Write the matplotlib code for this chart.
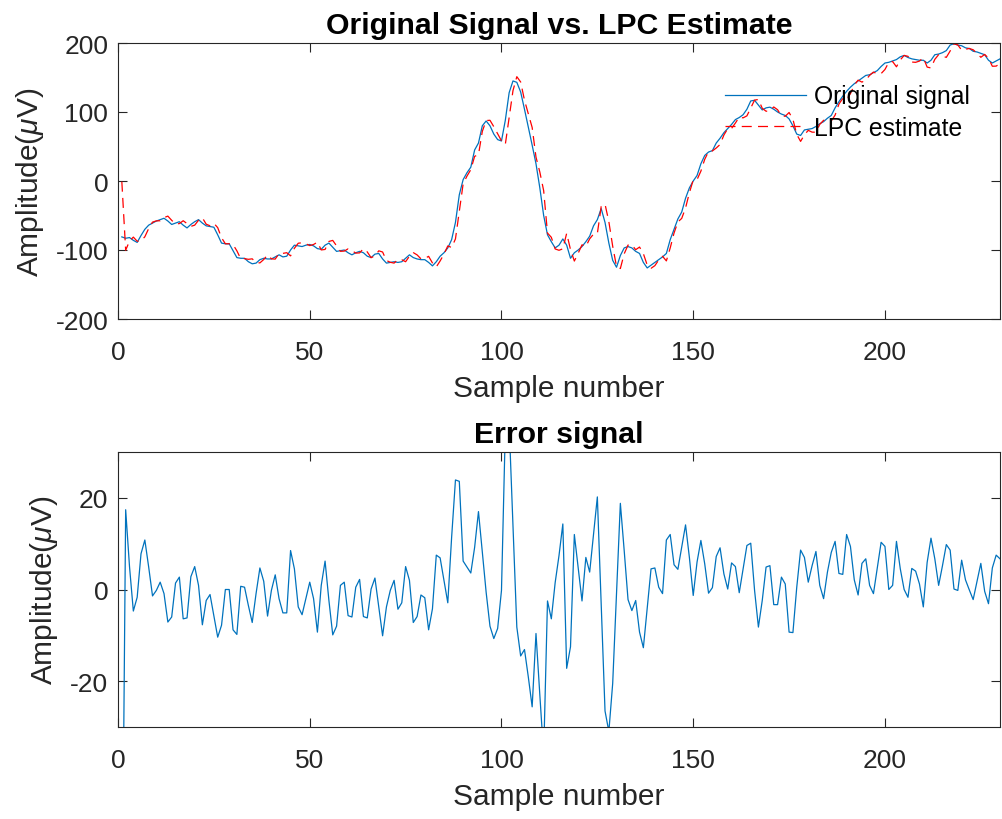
import numpy as np
import matplotlib
matplotlib.use("Agg")
import matplotlib.pyplot as plt

plt.rcParams['font.family'] = ['Liberation Sans', 'DejaVu Sans']
plt.rcParams['mathtext.fontset'] = 'custom'
plt.rcParams['mathtext.it'] = 'Liberation Sans:italic'
plt.rcParams['mathtext.rm'] = 'Liberation Sans'
plt.rcParams['axes.unicode_minus'] = False

# original signal (uV), samples 1..230
orig = [-81, -83, -82, -86, -89, -79, -70, -64, -61, -58,
        -56, -54, -58, -63, -61, -59, -64, -68, -63, -59,
        -56, -61, -65, -66, -67, -78, -90, -91, -91, -101,
        -111, -112, -112, -117, -120, -119, -114, -112, -113, -113,
        -110, -107, -110, -109, -100, -93, -94, -95, -93, -92,
        -94, -98, -99, -93, -90, -96, -102, -101, -100, -104,
        -107, -104, -102, -104, -109, -111, -106, -105, -113, -119,
        -118, -117, -118, -117, -112, -107, -111, -113, -114, -114,
        -118, -123, -117, -109, -104, -97, -85, -60, -20, 2,
        12, 20, 45, 55, 80, 87, 80, 68, 60, 58,
        88, 128, 145, 143, 129, 104, 78, 52, 25, -10,
        -50, -78, -88, -97, -93, -84, -93, -112, -104, -100,
        -95, -88, -80, -65, -56, -40, -60, -90, -115, -125,
        -108, -97, -95, -97, -102, -105, -118, -126, -122, -118,
        -114, -110, -105, -85, -70, -55, -45, -25, -10, 0,
        8, 25, 37, 42, 44, 55, 62, 70, 76, 82,
        89, 92, 96, 104, 116, 117, 110, 103, 106, 107,
        104, 100, 97, 95, 90, 80, 68, 66, 74, 75,
        76, 79, 83, 86, 91, 95, 106, 115, 123, 130,
        136, 141, 145, 149, 153, 154, 157, 160, 166, 171,
        172, 174, 176, 180, 182, 179, 177, 176, 175, 175,
        171, 175, 183, 184, 186, 189, 197, 199, 197, 196,
        193, 192, 188, 187, 185, 183, 175, 171, 174, 177]

# prediction error (uV)
err = [-80, 17.4, 5, -4.7, -1.7, 7.8, 10.8, 4.9, -1.4, -0.2,
       1.6, -0.9, -7.1, -6.0, 1.4, 2.7, -6.4, -6.2, 2.8, 5.0,
       0.9, -7.7, -2.4, -1.1, -5.7, -10.4, -7.8, 0, 0, -8.8,
       -9.8, 0.7, 0.5, -3.5, -7.2, -0.9, 4.7, 1.8, -5.8, -0.2,
       3.2, -2.0, -5.1, -5.1, 8.5, 4.5, -3.8, -5.5, -2.0, 1.6,
       -2.0, -9.3, 0.9, 6.2, -2.4, -9.9, -8.0, 0.9, 1.6, -5.7,
       -6.0, 0.5, 2.2, -5.9, -6.2, 0.1, 2.5, -3.8, -10.1, -3.8,
       -0.2, 2.0, -4.3, -2.9, 5.0, 2.0, -7.2, -5.9, -1.2, -1.8,
       -8.8, -4.2, 7.5, 6.9, 2.0, -2.9, 11.4, 23.9, 23.6, 6.2,
       4.9, 3.6, 9.2, 17.0, 8.1, -0.6, -8.0, -10.7, -8.5, -0.2,
       35, 36, 14, -8.2, -14.5, -13.1, -19.1, -25.6, -9.6, -23.0,
       -36, -2.5, -6.4, 1.5, 7.4, 14.3, -17.2, -12.5, 12.0, 4.7,
       -2.5, 7.0, 3.8, 12.0, 20.2, -3, -26.5, -31, -20.5, -1,
       18.8, 8.5, -2.2, -4.6, -2.4, -9.3, -12.7, -4.2, 4.5, 4.7,
       0.5, -0.9, 10.8, 12.0, 5.4, 4.4, 9.2, 14.1, 7.0, -1.3,
       6, 10.7, 5.6, -0.8, 0.4, 7.2, 9.1, 3.4, 0.1, 5.8,
       5.0, -0.7, 4.5, 9.6, 10.1, -0.2, -8.2, -2.4, 4.9, 5.2,
       -3.3, -3.3, 2.7, 1.2, -9.3, -9.4, 0.5, 8.6, 7.0, 1.6,
       5.2, 8.3, 0.9, -2.0, 3.8, 8.1, 10.5, 3.5, 3.3, 12.0,
       9.4, 2.1, -1.2, 5.7, 6.7, 0.9, -0.9, 4.7, 10.3, 9.4,
       0, 0.9, 10.5, 4.5, 0, -1.7, 4.6, 4.0, 1.2, -3.8,
       5.9, 11.2, 6.7, 0.9, 5.2, 9.8, 8.6, 0.1, -0.2, 6.4,
       2.1, -0.1, -2.2, 1.8, 5.7, -0.4, -3.1, 4.7, 7.5, 6.7]

orig = np.array(orig, dtype=float)
err = np.array(err, dtype=float)
est = orig - err          # LPC estimate = signal - error
n = np.arange(1, len(orig) + 1)

blue = '#0072BD'
axcol = '#262626'

fig = plt.figure(figsize=(10.02, 8.2), dpi=100)
ax1 = fig.add_axes([118/1002, 1 - 320/820, 882/1002, 276/820])
ax2 = fig.add_axes([118/1002, 1 - 728/820, 882/1002, 275/820])

ax1.plot(n, orig, color=blue, lw=0.9, label='Original signal')
ax1.plot(n, est, color='r', lw=0.9, ls=(0, (8, 5)), label='LPC estimate')
ax1.set_ylim(-200, 200)
ax1.set_yticks([-200, -100, 0, 100, 200])
ax1.set_title('Original Signal vs. LPC Estimate', fontsize=21.8, fontweight='bold', pad=7.5)
leg = ax1.legend(loc='upper left', bbox_to_anchor=(0.688, 0.85), frameon=False,
                 fontsize=17.8, handlelength=3.3, handletextpad=0.3,
                 borderpad=0, borderaxespad=0, labelspacing=0.3)

ax2.plot(n, err, color=blue, lw=0.9)
ax2.set_ylim(-30, 30)
ax2.set_yticks([-20, 0, 20])
ax2.set_title('Error signal', fontsize=21.8, fontweight='bold', pad=7)

for ax in (ax1, ax2):
    ax.set_xlim(0, 230)
    ax.set_xticks([0, 50, 100, 150, 200])
    ax.set_xlabel('Sample number', fontsize=21.5, color=axcol, labelpad=7)
    ax.set_ylabel(r'Amplitude($\mu$V)', fontsize=21.5, color=axcol, labelpad=7)
    ax.tick_params(direction='in', length=6.5, width=0.8, top=True, right=True,
                   labelsize=19, colors=axcol)
    ax.tick_params(axis='x', pad=15)
    ax.tick_params(axis='y', pad=7)
    for s in ax.spines.values():
        s.set_color(axcol)
        s.set_linewidth(0.8)

fig.savefig('out.png', dpi=100)
